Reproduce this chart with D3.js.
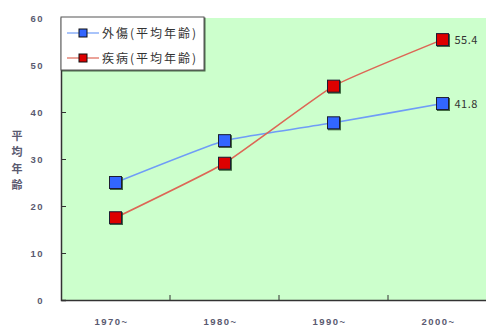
<!DOCTYPE html>
<html>
<head>
<meta charset="utf-8">
<script src="https://cdn.jsdelivr.net/npm/d3@7"></script>
<style>
  body { margin: 0; background: #fff; }
  svg { display: block; font-family: "Noto Sans CJK JP", "DejaVu Sans", sans-serif; }
</style>
</head>
<body>
<div id="chart"></div>
<script>
// Data
const periods = ["1970~", "1980~", "1990~", "2000~"];
const injury = [25.0, 33.9, 37.7, 41.8];   // 外傷(平均年齢)
const illness = [17.5, 29.1, 45.5, 55.4];  // 疾病(平均年齢)
const yTicks = [0, 10, 20, 30, 40, 50, 60];
const seriesNames = ["外傷(平均年齢)", "疾病(平均年齢)"];

const width = 486, height = 336;
const margin = {top: 18, right: -11, bottom: 36, left: 61};
const w = width - margin.left - margin.right;
const h = height - margin.top - margin.bottom;

const svg = d3.select("#chart").append("svg")
    .attr("width", width)
    .attr("height", height);

const defs = svg.append("defs");
defs.append("filter").attr("id", "shadow")
    .append("feDropShadow")
    .attr("dx", 1).attr("dy", 1).attr("stdDeviation", 0.6)
    .attr("flood-color", "#224422").attr("flood-opacity", 0.8);

const g = svg.append("g")
    .attr("transform", "translate(" + margin.left + "," + margin.top + ")");

// scales
const x = d3.scaleBand().domain(periods).range([0, w]);
const y = d3.scaleLinear().domain([0, 60]).range([h, 0]);

// plot background
g.append("rect")
    .attr("width", w).attr("height", h)
    .attr("fill", "#ccffcc");

// axes
const yAxis = g.append("g")
    .call(d3.axisLeft(y).tickValues(yTicks).tickSize(-5).tickPadding(17));
const xAxis = g.append("g")
    .attr("transform", "translate(0," + h + ")")
    .call(d3.axisBottom(x).tickSize(0).tickPadding(18));

[yAxis, xAxis].forEach(a => {
    a.select(".domain").attr("stroke", "#333").attr("stroke-width", 1.5);
    a.selectAll(".tick line").attr("stroke", "#333");
    a.selectAll("text")
        .attr("fill", "#5a5a70")
        .attr("font-size", 9.5)
        .attr("font-weight", "bold")
        .attr("letter-spacing", "1.5px");
});
xAxis.selectAll(".tick text").attr("dx", -4);

// inner ticks on x axis at band boundaries
g.append("g").selectAll("line")
    .data(periods.slice(1))
    .join("line")
    .attr("x1", d => x(d)).attr("x2", d => x(d))
    .attr("y1", h).attr("y2", h - 5)
    .attr("stroke", "#333");

// y axis title, vertical
g.append("text")
    .attr("x", -44).attr("y", 112)
    .attr("fill", "#5a5a70")
    .attr("font-size", 11)
    .attr("font-weight", "bold")
    .style("writing-mode", "vertical-rl")
    .attr("letter-spacing", "5.5px")
    .text("平均年齢");

const series = [
    {name: seriesNames[0], values: injury, line: "#6f9cf7", fill: "#3366ff"},
    {name: seriesNames[1], values: illness, line: "#dd6655", fill: "#dd0000"}
];

const line = d3.line()
    .x((d, i) => x(periods[i]) + x.bandwidth() / 2)
    .y(d => y(d))
    .curve(d3.curveCardinal.tension(0.6));

series.forEach(s => {
    g.append("path")
        .datum(s.values)
        .attr("fill", "none")
        .attr("stroke", s.line)
        .attr("stroke-width", 1.6)
        .attr("d", line);
    g.selectAll(null)
        .data(s.values)
        .join("rect")
        .attr("x", (d, i) => x(periods[i]) + x.bandwidth() / 2 - 6)
        .attr("y", d => y(d) - 6)
        .attr("width", 12).attr("height", 12)
        .attr("fill", s.fill)
        .attr("stroke", "#1a1a33")
        .attr("stroke-width", 1)
        .attr("filter", "url(#shadow)");
    const last = s.values.length - 1;
    g.append("text")
        .attr("x", x(periods[last]) + x.bandwidth() / 2 + 12)
        .attr("y", y(s.values[last]) + 4)
        .attr("fill", "#333")
        .attr("font-size", 11)
        .attr("letter-spacing", "0.5px")
        .text(s.values[last]);
});

// legend
const legend = svg.append("g").attr("transform", "translate(61,17)");
legend.append("rect")
    .attr("width", 143).attr("height", 53)
    .attr("fill", "#fff")
    .attr("stroke", "#555")
    .attr("stroke-width", 1)
    .attr("filter", "url(#shadow)");
series.forEach((s, i) => {
    const ly = 16 + i * 25;
    legend.append("line")
        .attr("x1", 6).attr("x2", 38)
        .attr("y1", ly).attr("y2", ly)
        .attr("stroke", s.line).attr("stroke-width", 1.2);
    legend.append("rect")
        .attr("x", 18).attr("y", ly - 4)
        .attr("width", 8).attr("height", 8)
        .attr("fill", s.fill).attr("stroke", "#111");
    legend.append("text")
        .attr("x", 41).attr("y", ly + 5)
        .attr("fill", "#333")
        .attr("font-size", 12)
        .attr("letter-spacing", "2px")
        .text(s.name);
});
</script>
</body>
</html>
